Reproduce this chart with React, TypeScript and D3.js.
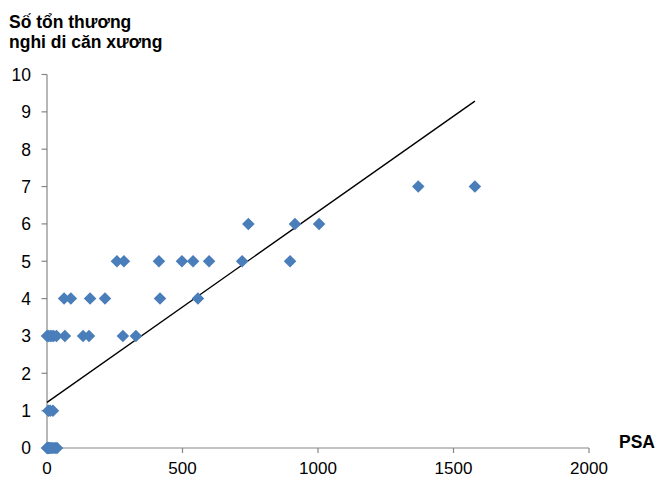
import React from 'react';
import * as d3 from 'd3';

// PSA value (x) vs number of suspected bone lesions (y)
const psaLevel0 = [0, 3, 6, 10, 15, 22, 30, 37];
const psaLevel1 = [5, 12, 22];
const psaLevel3 = [0, 5, 12, 18, 25, 35, 66, 133, 155, 280, 328];
const psaLevel4 = [63, 88, 159, 214, 417, 557];
const psaLevel5 = [258, 284, 413, 498, 539, 598, 720, 897];
const psaLevel6 = [743, 915, 1004];
const psaLevel7 = [1370, 1579];

const xTicks = [0, 500, 1000, 1500, 2000];
const yTicks = [0, 1, 2, 3, 4, 5, 6, 7, 8, 9, 10];

// linear trend line
const trendIntercept = 1.22;
const trendSlope = 0.00511;

const titleLines = ['Số tổn thương', 'nghi di căn xương'];
const xTitle = 'PSA';

const W = 657;
const H = 478;
const margin = { top: 74.5, right: 68, bottom: 30, left: 47 };
const axisColor = '#868686';
const pointColor = '#4a7ebb';
const font = 'Arial, "Liberation Sans", sans-serif';

const points: [number, number][] = [
  ...psaLevel0.map(v => [v, 0] as [number, number]),
  ...psaLevel1.map(v => [v, 1] as [number, number]),
  ...psaLevel3.map(v => [v, 3] as [number, number]),
  ...psaLevel4.map(v => [v, 4] as [number, number]),
  ...psaLevel5.map(v => [v, 5] as [number, number]),
  ...psaLevel6.map(v => [v, 6] as [number, number]),
  ...psaLevel7.map(v => [v, 7] as [number, number]),
];

export default function App() {
  const x = d3.scaleLinear().domain([0, 2000]).range([margin.left, W - margin.right]);
  const y = d3.scaleLinear().domain([0, 10]).range([H - margin.bottom, margin.top]);

  const maxPsa = d3.max(points, d => d[0]) ?? 0;
  const trend = d3.line<number>()
    .x(d => x(d))
    .y(d => y(trendIntercept + trendSlope * d));

  const diamond = d3.symbol().type(d3.symbolDiamond2).size(100)();
  const x0 = x(0);
  const y0 = y(0);

  return (
    <svg width={W} height={H} style={{ position: 'absolute', left: 0, top: 0, background: '#fff' }}>
      {/* title */}
      <text fontFamily={font} fontWeight="bold" fontSize={17.5} fill="#000">
        {titleLines.map((t, i) => (
          <tspan key={i} x={9} y={28 + i * 19.5}>{t}</tspan>
        ))}
      </text>

      {/* y axis */}
      <line x1={x0} x2={x0} y1={y(10)} y2={y0} stroke={axisColor} strokeWidth={1.2} />
      {yTicks.map(t => (
        <g key={t}>
          <line x1={x0 - 5.5} x2={x0} y1={y(t)} y2={y(t)} stroke={axisColor} strokeWidth={1.2} />
          <text x={31} y={y(t)} dy="0.36em" textAnchor="end" fontFamily={font} fontSize={17.5} fill="#000">{t}</text>
        </g>
      ))}

      {/* x axis */}
      <line x1={x0} x2={x(2000)} y1={y0} y2={y0} stroke={axisColor} strokeWidth={1.2} />
      {xTicks.map(t => (
        <g key={t}>
          <line x1={x(t)} x2={x(t)} y1={y0} y2={y0 + 5} stroke={axisColor} strokeWidth={1.2} />
          <text x={x(t)} y={474} textAnchor="middle" fontFamily={font} fontSize={17} fill="#000">{t}</text>
        </g>
      ))}
      <text x={619} y={448} fontFamily={font} fontWeight="bold" fontSize={17.5} fill="#000">{xTitle}</text>

      {/* trend line */}
      <path d={trend([0, maxPsa]) ?? ''} fill="none" stroke="#000" strokeWidth={1.4} />

      {/* points */}
      {points.map((p, i) => (
        <path key={i} d={diamond ?? ''} transform={`translate(${x(p[0])},${y(p[1])})`} fill={pointColor} />
      ))}
    </svg>
  );
}
